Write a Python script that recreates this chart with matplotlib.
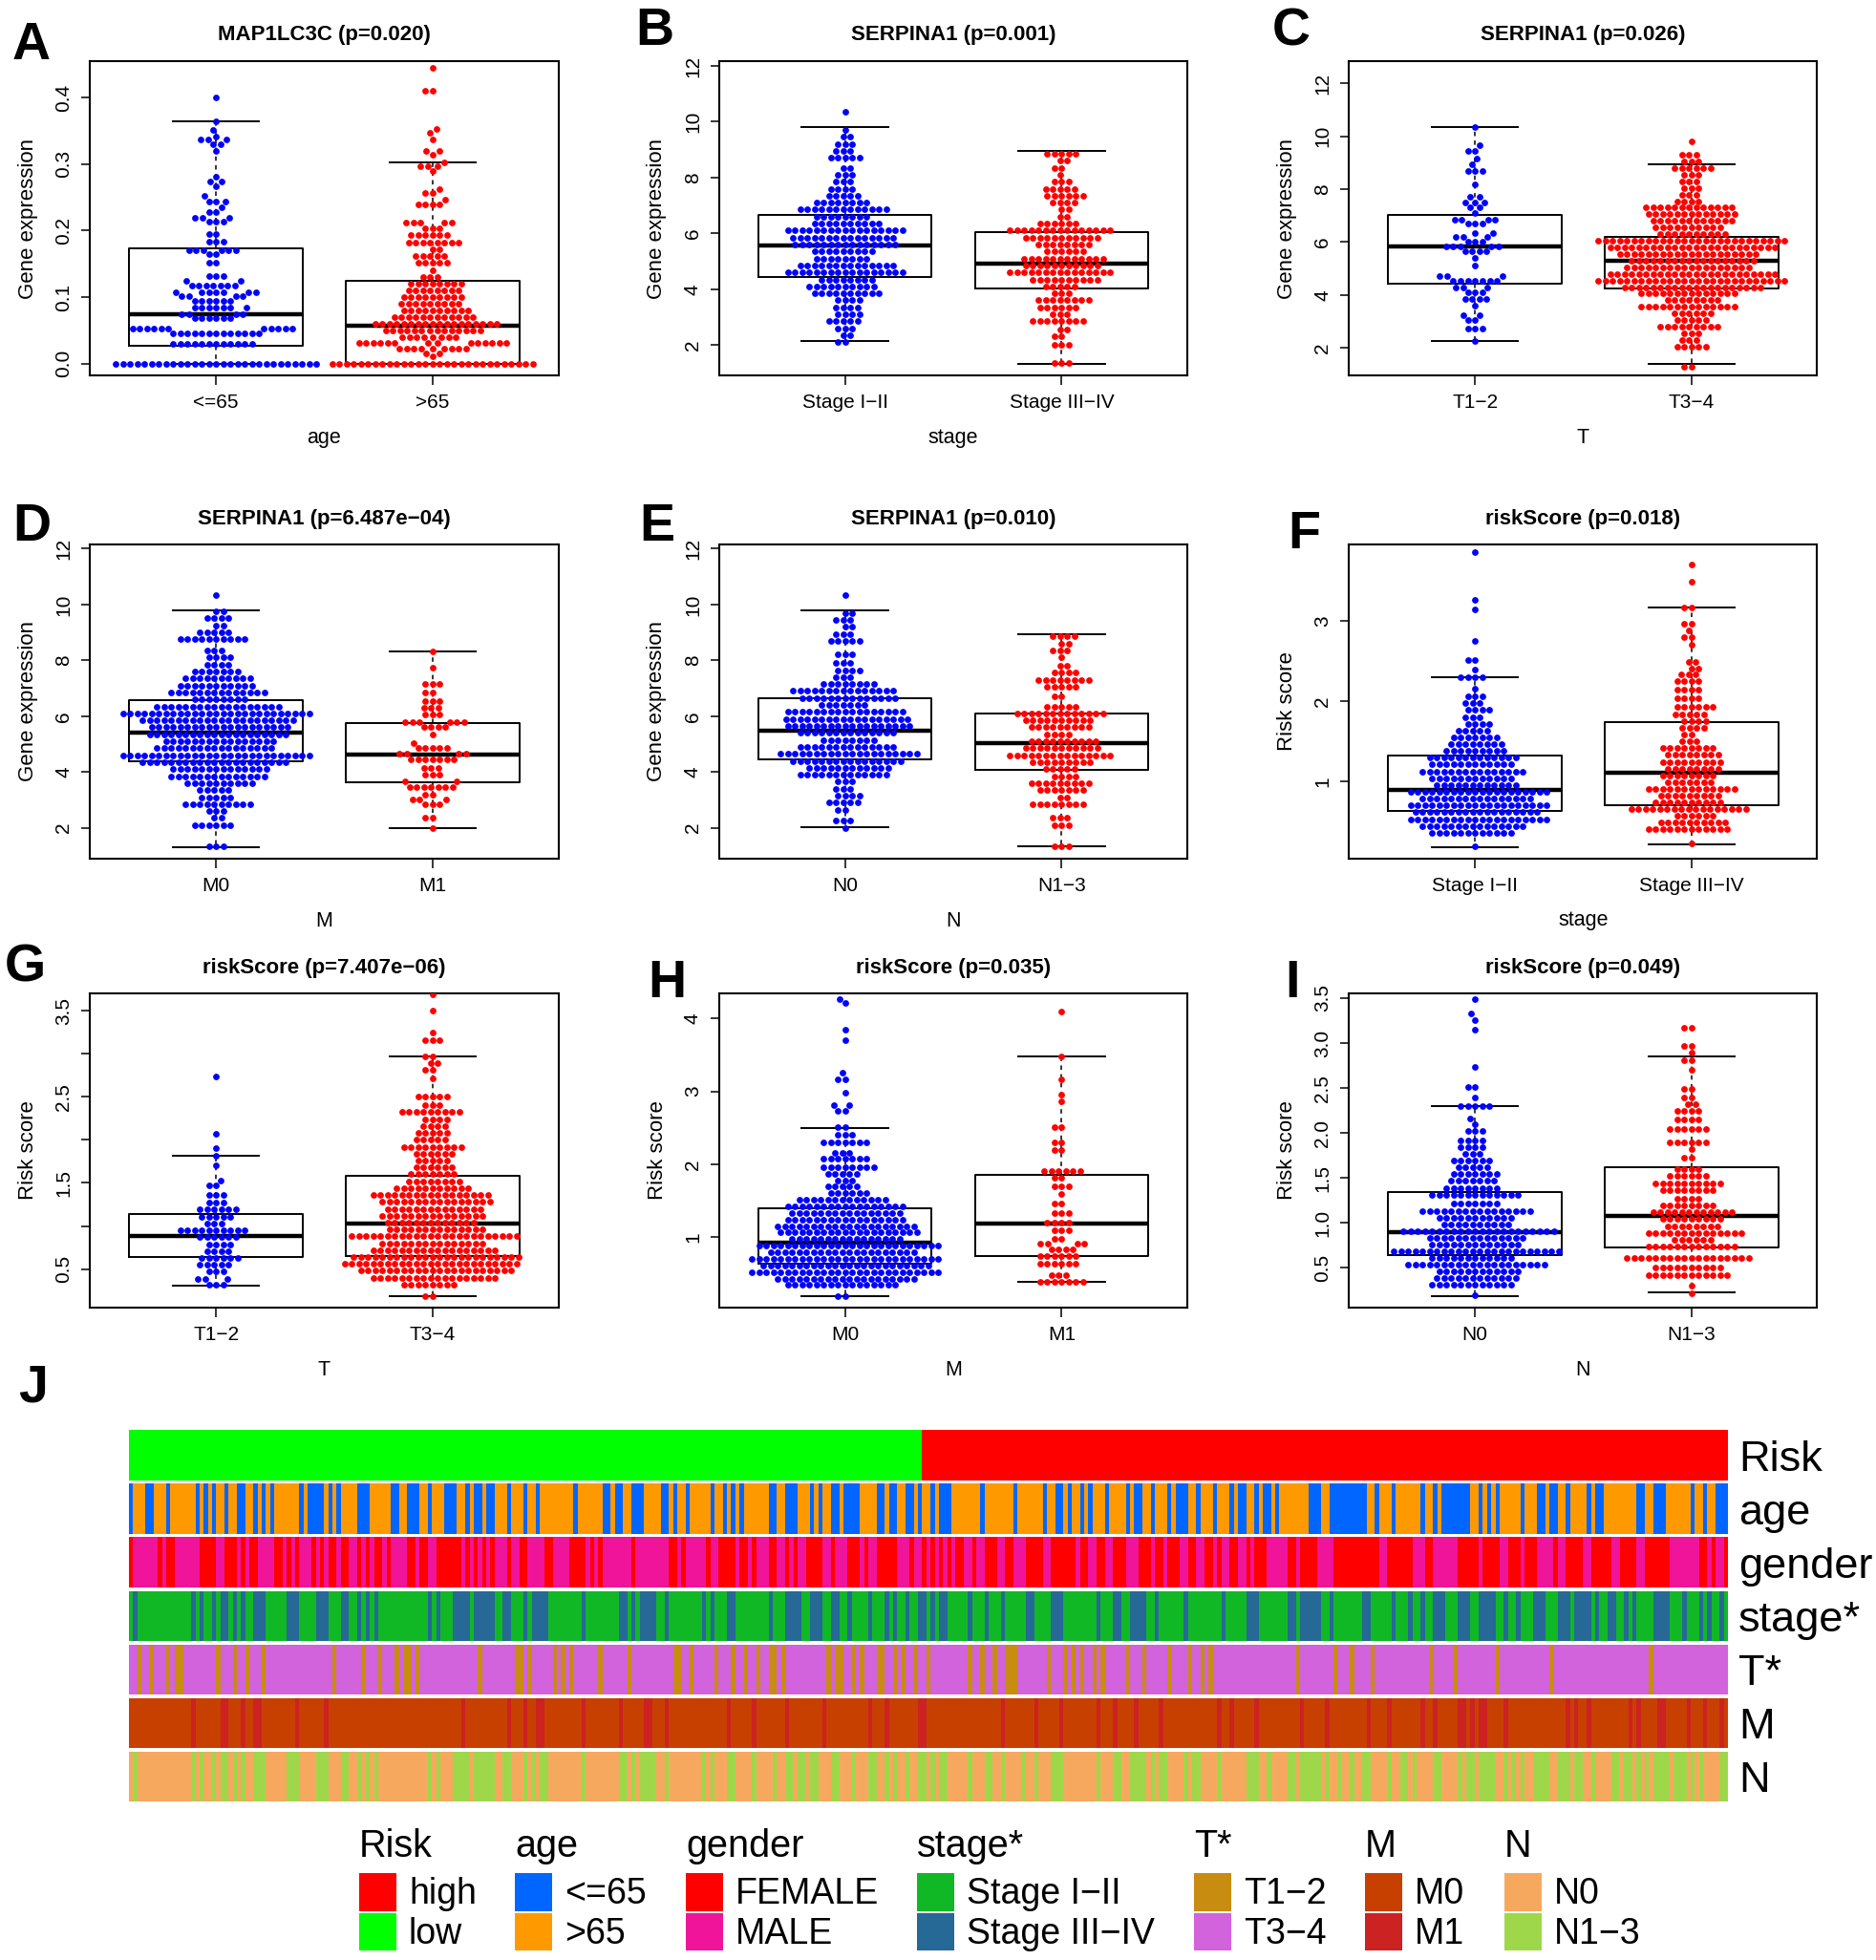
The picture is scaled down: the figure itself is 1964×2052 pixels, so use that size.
import numpy as np
import matplotlib
matplotlib.use('Agg')
import matplotlib.pyplot as plt
from matplotlib.colors import ListedColormap
from matplotlib.patches import Rectangle

plt.rcParams['font.family'] = ['Liberation Sans', 'DejaVu Sans']
W, H = 1965, 2052
BLUE, RED = '#0000FF', '#FF0000'
M = '\u2212'

# ---------- swarm data: value levels and number of points at each level ----------
a1_lv = [0,.03,.045,.053,.068,.075,.084,.095,.102,.108,.118,.125,.132,.152,.164,.171,.184,.195,.214,.219,.228,.235,.244,.252,.267,.274,.281,.32,.33,.337,.341,.351,.364,.4]
a1_ct = [29,12,13,11,6,4,7,6,4,7,7,2,3,2,2,6,3,2,3,3,2,1,3,1,1,2,1,1,2,3,1,1,1,1]
a2_lv = [0,.011,.016,.023,.031,.04,.05,.06,.07,.08,.09,.10,.11,.12,.13,.14,.152,.162,.172,.182,.193,.204,.212,.24,.247,.257,.262,.289,.297,.302,.314,.319,.337,.347,.352,.41,.445]
a2_ct = [29,1,2,9,14,8,14,18,12,10,9,9,8,8,3,1,5,5,2,8,6,3,5,4,1,2,1,1,3,1,1,2,1,1,1,2,1]

b1_lv = [2.1,2.35,2.6,2.85,3.1,3.35,3.6,3.85,4.1,4.35,4.6,4.85,5.1,5.35,5.6,5.85,6.1,6.35,6.6,6.85,7.1,7.35,7.6,7.85,8.1,8.35,8.7,8.95,9.2,9.45,9.7,10.35]
b1_ct = [2,2,3,5,4,4,4,10,10,8,17,14,8,9,15,15,17,10,8,13,8,5,4,3,3,2,5,3,3,2,1,1]
b2_lv = [1.35,2.0,2.3,2.55,2.85,3.1,3.35,3.6,3.85,4.1,4.35,4.6,4.85,5.1,5.35,5.6,5.85,6.1,6.35,6.6,6.85,7.1,7.35,7.6,7.85,8.1,8.35,8.6,8.85]
b2_ct = [3,3,2,2,8,3,6,8,3,5,10,15,11,12,6,8,11,15,6,2,2,4,6,5,3,1,2,2,5]

c1_lv = [2.25,2.75,3.05,3.25,3.6,3.85,4.1,4.3,4.55,4.7,5.1,5.4,5.65,5.85,6.0,6.2,6.35,6.7,6.85,7.1,7.3,7.5,7.7,8.2,8.7,8.95,9.15,9.45,9.65,10.34]
c1_ct = [1,3,2,2,1,4,3,3,7,3,1,1,4,5,3,3,2,3,4,1,2,3,2,1,3,1,1,2,1,1]
c2_lv = [1.3,2.05,2.3,2.55,2.8,3.05,3.3,3.55,3.8,4.05,4.3,4.55,4.8,5.05,5.3,5.55,5.8,6.05,6.3,6.55,6.8,7.05,7.3,7.55,7.8,8.05,8.3,8.55,8.8,9.05,9.3,9.8]
c2_ct = [2,5,3,3,9,5,6,14,8,14,20,27,24,18,18,20,24,27,10,10,12,13,13,4,3,3,3,3,6,3,3,1]

d1_lv = [1.35,2.1,2.35,2.6,2.85,3.1,3.35,3.6,3.85,4.1,4.35,4.6,4.85,5.1,5.35,5.6,5.85,6.1,6.35,6.6,6.85,7.1,7.35,7.6,7.85,8.1,8.35,8.75,9.0,9.25,9.5,9.75,10.35]
d1_ct = [3,6,2,3,10,5,5,10,14,14,21,27,17,16,20,20,22,27,18,8,14,11,10,7,4,4,3,10,5,2,4,2,1]
d2_lv = [2.0,2.35,2.85,3.0,3.2,3.45,3.65,3.9,4.15,4.45,4.65,4.85,5.05,5.35,5.6,5.8,6.05,6.3,6.55,6.85,7.15,7.75,8.31]
d2_ct = [1,2,3,3,2,7,2,3,3,7,4,5,1,1,4,6,3,3,3,2,3,1,1]

e1_lv = [2.0,2.25,2.65,2.9,3.15,3.4,3.65,3.9,4.15,4.4,4.65,4.9,5.15,5.4,5.65,5.9,6.15,6.4,6.65,6.9,7.15,7.4,7.65,7.9,8.2,8.7,8.95,9.2,9.45,9.7,10.35]
e1_ct = [1,3,2,5,4,3,3,13,12,16,20,14,8,14,18,18,17,7,14,15,8,3,4,3,3,5,3,2,3,2,1]
e2_lv = [1.35,2.1,2.35,2.85,3.1,3.35,3.6,3.85,4.1,4.35,4.6,4.85,5.1,5.35,5.6,5.85,6.1,6.35,6.7,7.05,7.3,7.55,7.8,8.1,8.35,8.6,8.85]
e2_ct = [3,3,3,8,2,7,9,4,5,9,15,11,10,4,9,10,13,5,2,5,8,4,2,1,3,2,4]

f1_lv = [.186,.36,.445,.53,.615,.70,.785,.87,.955,1.04,1.125,1.21,1.295,1.38,1.465,1.55,1.635,1.72,1.805,1.89,1.975,2.06,2.16,2.3,2.4,2.51,2.75,3.15,3.26,3.86]
f1_ct = [1,12,15,20,18,20,16,20,12,12,15,12,13,9,8,7,5,4,3,4,3,3,1,4,1,2,1,1,1,1]
f2_lv = [.226,.4,.485,.57,.65,.735,.82,.905,.99,1.075,1.16,1.245,1.33,1.415,1.5,1.585,1.67,1.755,1.84,1.925,2.04,2.14,2.25,2.33,2.41,2.49,2.71,2.8,2.88,2.97,3.17,3.49,3.7]
f2_ct = [1,12,10,6,17,10,9,13,7,8,8,9,8,8,3,2,4,4,5,6,4,4,4,3,2,2,1,2,1,2,2,1,1]

g1_lv = [.32,.39,.47,.55,.63,.71,.79,.87,.95,1.03,1.11,1.19,1.27,1.36,1.47,1.53,1.7,1.815,1.9,2.07,2.74]
g1_ct = [3,3,3,5,6,4,4,6,10,3,5,6,3,3,2,1,1,1,1,1,1]
g2_lv = [.19,.32,.40,.48,.56,.64,.72,.80,.88,.96,1.04,1.12,1.2,1.28,1.36,1.44,1.52,1.6,1.68,1.76,1.84,1.92,2.0,2.08,2.16,2.24,2.32,2.4,2.5,2.71,2.81,2.89,2.97,3.16,3.25,3.5,3.69]
g2_ct = [2,8,18,22,25,24,18,15,24,14,13,15,14,16,17,11,8,7,6,5,6,9,5,5,4,4,9,3,5,1,2,2,2,3,1,1,1]

h1_lv = [.19,.34,.43,.52,.61,.70,.79,.88,.97,1.06,1.15,1.24,1.33,1.42,1.51,1.6,1.69,1.78,1.87,1.96,2.07,2.16,2.3,2.41,2.51,2.73,2.81,2.98,3.17,3.26,3.7,3.85,4.21,4.27]
h1_ct = [2,16,20,27,24,27,21,26,16,20,20,17,16,17,13,6,5,3,5,8,7,3,7,3,2,2,2,1,2,1,1,1,1,1]
h2_lv = [.39,.48,.63,.74,.83,.91,.98,1.09,1.2,1.33,1.46,1.59,1.7,1.81,1.9,2.2,2.3,2.51,2.86,2.96,3.16,3.48,4.1]
h2_ct = [7,3,6,6,4,4,2,3,4,3,2,1,3,2,6,2,2,2,1,1,1,1,1]

i1_lv = [.19,.31,.385,.46,.535,.61,.685,.76,.835,.91,.985,1.06,1.135,1.21,1.31,1.39,1.465,1.54,1.615,1.69,1.765,1.84,1.92,2.02,2.1,2.16,2.3,2.4,2.51,2.74,3.15,3.26,3.33,3.49]
i1_ct = [1,12,12,12,20,12,24,13,14,22,10,11,16,7,13,8,7,7,5,6,3,4,4,3,1,1,5,1,2,1,1,1,1,1]
i2_lv = [.22,.3,.42,.5,.61,.74,.815,.89,.965,1.04,1.115,1.19,1.27,1.36,1.44,1.52,1.6,1.72,1.82,1.9,2.04,2.15,2.25,2.32,2.4,2.49,2.7,2.81,2.89,2.97,3.17]
i2_ct = [1,1,12,10,18,13,6,14,8,9,12,8,4,8,10,6,4,2,1,6,6,4,4,2,2,2,1,2,1,2,2]

# ---------- box statistics: low whisker, Q1, median, Q3, high whisker ----------
a_box = [[0,.027,.0745,.173,.364],[0,0,.057,.124,.302]]
b_box = [[2.13,4.45,5.58,6.67,9.8],[1.31,4.01,4.93,6.05,8.95]]
c_box = [[2.26,4.43,5.83,7.04,10.34],[1.40,4.26,5.29,6.19,8.95]]
d_box = [[1.31,4.39,5.42,6.57,9.79],[2.0,3.64,4.64,5.75,8.31]]
e_box = [[2.02,4.44,5.47,6.64,9.79],[1.33,4.07,5.03,6.08,8.94]]
f_box = [[.18,.627,.897,1.325,2.305],[.218,.70,1.107,1.738,3.175]]
g_box = [[.308,.637,.888,1.135,1.815],[.19,.648,1.03,1.58,2.97]]
h_box = [[.19,.637,.926,1.39,2.5],[.388,.737,1.188,1.853,3.484]]
i_box = [[.188,.645,.893,1.34,2.30],[.224,.73,1.08,1.62,2.85]]

# ---------- heatmap: sample ranges [start, end) of the less common class ----------
n_samples = 385
n_low = 191
age_young = [0,1,4,6,9,10,16,17,18,19,20,21,23,24,26,28,30,31,32,33,34,35,41,42,43,47,48,49,50,51,55,58,63,65,67,70,72,73,76,79,81,82,83,85,86,88,91,92,95,96,98,99,107,108,114,116,117,119,121,124,128,130,131,132,134,135,140,141,143,144,145,146,147,148,154,156,158,161,164,165,166,167,169,171,172,176,180,182,183,185,187,189,190,191,193,194,195,198,205,206,213,214,220,221,223,225,226,227,229,230,231,232,235,236,240,241,242,244,246,247,250,251,252,255,257,258,261,262,265,266,267,269,271,272,273,275,276,277,284,287,289,298,300,301,304,305,311,312,314,315,316,323,325,326,327,328,329,330,335,336,339,341,342,344,346,347,351,352,353,355,363,365,367,370,376,377,379,380,382,385]
gender_female_left = [0,1,7,8,9,11,17,21,23,26,27,28,29,31,35,37,38,39,40,41,44,45,46,47,48,50,51,53,55,56,57,58,59,61,62,63,67,69,70,72,74,80,81,82,83,84,85,86,87,88,91,92,94,96,100,102,106,110,111,112,113,114,121,122,130,132,133,134,139,140,142,146,147,149,150,151,154,156,158,159,160,161,163,164,164,167,169,170,173,176,177,178,180,185,188,189]
gender_male_right = [192,193,194,195,196,197,198,199,201,203,204,206,209,211,213,216,220,222,228,229,231,233,235,237,240,243,246,247,249,250,253,255,257,259,261,262,263,265,267,269,270,271,274,279,281,282,286,290,301,303,309,312,314,320,325,326,330,332,335,336,339,343,344,346,350,352,357,359,363,365,371,378,380,381,382,384]
stage_late = [1,2,15,16,17,18,20,21,22,24,25,26,27,28,30,33,38,41,45,48,51,53,55,56,57,58,59,60,72,73,74,75,78,82,83,88,90,92,95,96,97,101,109,110,118,120,121,122,123,127,129,130,138,139,140,141,144,146,154,155,158,160,160,162,164,167,169,171,173,174,178,179,182,183,184,185,187,188,190,192,193,194,195,197,202,203,206,207,210,211,216,218,222,225,233,234,237,239,241,245,247,248,254,255,263,264,269,272,279,281,282,287,289,290,297,299,304,305,308,309,311,312,314,317,320,323,325,329,331,332,334,335,338,341,344,347,348,352,353,354,356,358,360,361,362,363,367,371,374,375,378,379,380,381,383,384]
t_early = [2,3,5,6,9,10,11,13,21,22,25,26,28,29,32,33,49,50,56,57,60,61,64,65,66,68,69,70,84,85,93,95,96,97,102,103,104,105,106,107,113,114,120,121,131,133,135,136,141,142,145,146,148,149,151,152,154,156,157,158,168,169,170,172,174,175,176,177,180,182,184,185,186,187,189,190,192,193,202,203,205,206,208,209,211,214,221,222,225,226,227,228,229,230,232,233,234,235,240,241,244,245,250,251,255,256,258,259,260,261,281,282,290,291,294,295,299,300,313,314,319,320,329,330,342,343,366,367]
m_one = [15,16,22,24,27,28,30,32,40,41,47,48,80,81,91,92,95,96,98,100,109,110,118,119,124,126,129,130,144,145,150,151,158,159,167,168,178,179,182,183,190,192,210,211,218,219,224,225,233,234,237,238,242,243,248,249,262,263,265,266,271,272,282,283,288,289,298,299,303,304,311,312,314,315,320,322,323,324,325,327,331,332,346,347,348,349,351,352,361,362,363,364,368,370,375,376,379,380,383,384]
n_pos = [1,2,15,16,17,18,20,21,22,24,25,26,27,28,30,33,38,41,45,48,51,53,55,56,57,58,59,60,72,73,74,75,78,82,83,88,90,92,95,96,97,98,99,101,109,110,118,120,121,122,123,127,129,130,138,139,140,141,144,146,150,151,155,156,158,160,161,163,164,166,169,171,174,175,178,180,182,183,184,185,187,188,190,192,193,194,195,197,202,203,206,208,210,211,215,216,218,219,222,225,233,234,237,239,241,245,246,247,248,250,254,255,256,258,262,263,269,272,274,275,279,281,282,287,288,289,291,292,294,295,297,299,303,304,306,308,309,310,314,316,320,321,322,324,325,329,331,332,333,334,335,336,338,342,344,347,348,350,352,353,357,359,360,362,363,364,365,366,367,371,372,375,376,377,378,379,383,385]

row_names = ['Risk','age','gender','stage*','T*','M','N']
legend_titles = ['Risk','age','gender','stage*','T*','M','N']
legend_labels = [['high','low'],['<=65','>65'],['FEMALE','MALE'],
                 ['Stage I'+M+'II','Stage III'+M+'IV'],['T1'+M+'2','T3'+M+'4'],['M0','M1'],['N0','N1'+M+'3']]
legend_colors = [['#FF0000','#00FF00'],['#0066FF','#FF9900'],['#FF0000','#F0149A'],
                 ['#10B826','#266896'],['#C88C10','#D362DD'],['#C84000','#CC2222'],['#F6A95E','#9ED84A']]
legend_left = [376,539,718,960,1250,1429,1575]

fig = plt.figure(figsize=(W/100, H/100), dpi=100)
def axpx(l, t, r, b):
    return fig.add_axes([l/W, 1-b/H, (r-l)/W, (b-t)/H])
def txt(x, y, s, **k):
    return fig.text(x/W, 1-y/H, s, **k)

def swarm(ax, x0, y, d=7.5):
    y = np.sort(y)
    pts = ax.transData.transform(np.c_[np.zeros_like(y), y])[:, 1]
    placed = []
    for p in pts:
        cand = [0.0]
        near = [(a, b) for a, b in placed if abs(b-p) < d]
        for a, b in near:
            dx = np.sqrt(d*d-(b-p)**2)
            cand += [a-dx, a+dx]
        cand.sort(key=abs)
        for c in cand:
            if all((c-a)**2+(p-b)**2 >= d*d-1e-6 for a, b in near):
                placed.append((c, p)); break
    offs = np.array([a for a, _ in placed])
    unit = (ax.transData.transform([[1, 0]])-ax.transData.transform([[0, 0]]))[0, 0]
    return x0+offs/unit, y

lefts = [94.5, 753, 1412.5]
tops = [(63.7, 393.3), (570, 899), (1040, 1369)]
panels = [
 ('MAP1LC3C (p=0.020)','Gene expression','age',['<=65','>65'],a1_lv,a1_ct,a2_lv,a2_ct,a_box,(-.0179,.4549),[0,.1,.2,.3,.4],['0.0','0.1','0.2','0.3','0.4']),
 ('SERPINA1 (p=0.001)','Gene expression','stage',['Stage I'+M+'II','Stage III'+M+'IV'],b1_lv,b1_ct,b2_lv,b2_ct,b_box,(.903,12.18),[2,4,6,8,10,12],None),
 ('SERPINA1 (p=0.026)','Gene expression','T',['T1'+M+'2','T3'+M+'4'],c1_lv,c1_ct,c2_lv,c2_ct,c_box,(.953,12.85),[2,4,6,8,10,12],None),
 ('SERPINA1 (p=6.487e'+M+'04)','Gene expression','M',['M0','M1'],d1_lv,d1_ct,d2_lv,d2_ct,d_box,(.895,12.15),[2,4,6,8,10,12],None),
 ('SERPINA1 (p=0.010)','Gene expression','N',['N0','N1'+M+'3'],e1_lv,e1_ct,e2_lv,e2_ct,e_box,(.895,12.15),[2,4,6,8,10,12],None),
 ('riskScore (p=0.018)','Risk score','stage',['Stage I'+M+'II','Stage III'+M+'IV'],f1_lv,f1_ct,f2_lv,f2_ct,f_box,(.036,3.956),[1,2,3],None),
 ('riskScore (p=7.407e'+M+'06)','Risk score','T',['T1'+M+'2','T3'+M+'4'],g1_lv,g1_ct,g2_lv,g2_ct,g_box,(.053,3.70),[.5,1,1.5,2,2.5,3,3.5],['0.5','','1.5','','2.5','','3.5']),
 ('riskScore (p=0.035)','Risk score','M',['M0','M1'],h1_lv,h1_ct,h2_lv,h2_ct,h_box,(.03,4.345),[1,2,3,4],None),
 ('riskScore (p=0.049)','Risk score','N',['N0','N1'+M+'3'],i1_lv,i1_ct,i2_lv,i2_ct,i_box,(.057,3.553),[.5,1,1.5,2,2.5,3,3.5],['0.5','1.0','1.5','2.0','2.5','3.0','3.5']),
]
for k, p in enumerate(panels):
    title, yl, xl, cats, l1, c1, l2, c2, box, ylim, yt, ytl = p
    t, b = tops[k//3]
    l = lefts[k % 3]
    ax = axpx(l, t, l+490, b)
    ax.set_xlim(.42, 2.58); ax.set_ylim(*ylim)
    stats = [dict(whislo=s[0], q1=s[1], med=s[2], q3=s[3], whishi=s[4], fliers=[]) for s in box]
    ax.bxp(stats, positions=[1, 2], widths=.8, capwidths=.4, showfliers=False,
           boxprops=dict(color='k', lw=1.4), medianprops=dict(color='k', lw=3.2, solid_capstyle='butt'),
           whiskerprops=dict(color='k', lw=1.1, ls=(0, (3, 3))), capprops=dict(color='k', lw=1.4),
           manage_ticks=False)
    for x0, lv, ct, col in ((1, l1, c1, BLUE), (2, l2, c2, RED)):
        xs, ys = swarm(ax, x0, np.repeat(lv, ct))
        ax.scatter(xs, ys, s=24, c=col, linewidths=0, zorder=5)
    ax.set_xticks([1, 2]); ax.set_xticklabels(cats, fontsize=15)
    ax.set_yticks(yt)
    ax.set_yticklabels(ytl if ytl else [str(v) for v in yt], rotation=90, va='center', fontsize=15)
    ax.tick_params(axis='x', length=7.5, width=1.1, pad=6)
    ax.tick_params(axis='y', length=6.5, width=1.1, pad=6.5)
    for s in ax.spines.values():
        s.set_linewidth(1.5)
    cx = l+245
    txt(cx, t-27, title, ha='center', va='center', fontsize=16, fontweight='bold')
    txt(cx, b+65, xl, ha='center', va='center', fontsize=15.5)
    txt(l-65, (t+b)/2, yl, ha='center', va='center', rotation=90, fontsize=16)

letters = ['A','B','C','D','E','F','G','H','I','J']
letter_xy = [(33,48),(685,33),(1352,33),(33,552),(688,552),(1365,560),(26,1013),(698,1030),(1353,1030),(35,1453)]
for s, (x, y) in zip(letters, letter_xy):
    txt(x, y, s, ha='center', va='center', fontsize=40, fontweight='bold')

def classes(base, pairs, value, out=None):
    v = np.full(n_samples, base) if out is None else out
    for a, e in zip(pairs[0::2], pairs[1::2]):
        v[a:e] = value
    return v
risk = np.where(np.arange(n_samples) < n_low, 1, 0)
age = classes(1, age_young, 0)
gender = np.where(np.arange(n_samples) < 191, 1, 0)
classes(0, gender_female_left, 0, gender)
classes(0, gender_male_right, 1, gender)
stage = classes(0, stage_late, 1)
tcls = classes(1, t_early, 0)
mcls = classes(0, m_one, 1)
ncls = classes(0, n_pos, 1)
rows = [risk, age, gender, stage, tcls, mcls, ncls]
row_tops = [1497.3, 1553.3, 1609.3, 1665.7, 1722, 1777.7, 1834]
for v, cols, name, rt in zip(rows, legend_colors, row_names, row_tops):
    ax = axpx(135, rt, 1809, rt+52.3)
    ax.pcolormesh(np.arange(n_samples+1), [0, 1], v[None, :], cmap=ListedColormap(cols), vmin=0, vmax=1)
    ax.axis('off')
    txt(1820, rt+31, name, ha='left', va='center', fontsize=32.5)

for x, title, labs, cols in zip(legend_left, legend_titles, legend_labels, legend_colors):
    txt(x, 1944, title, ha='left', va='baseline', fontsize=28.5)
    for (t, b), base, lab, c in zip([(1961, 2001), (2003, 2042)], [1993, 2035], labs, cols):
        fig.patches.append(Rectangle((x/W, 1-b/H), 39/W, (b-t)/H, transform=fig.transFigure, fc=c, ec='none'))
        txt(x+52, base, lab, ha='left', va='baseline', fontsize=27)

fig.savefig('out.png', dpi=100)
